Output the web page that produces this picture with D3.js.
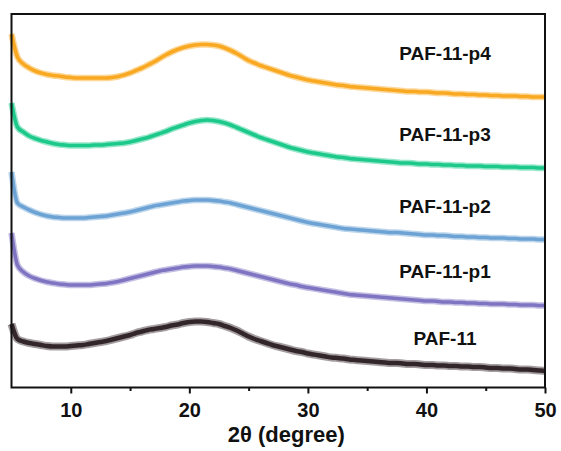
<!DOCTYPE html>
<html>
<head>
<meta charset="utf-8">
<script src="https://cdn.jsdelivr.net/npm/d3@7"></script>
<style>
  html, body { margin: 0; padding: 0; background: #fff; }
  svg { display: block; font-family: Arial, "Liberation Sans", sans-serif; }
</style>
</head>
<body>
<svg id="chart" width="561" height="451"></svg>
<script>
// --- Data (2θ grid every 0.5°, stacked intensities in a.u.) ---
const twoTheta = d3.range(5, 50.001, 0.5);

const seriesNames = ["PAF-11-p4", "PAF-11-p3", "PAF-11-p2", "PAF-11-p1", "PAF-11"];
const seriesColors = ["#f9a822", "#1cc98a", "#6ca3d4", "#7f74c2", "#33262b"];

const p4 = [353, 330, 323, 319, 316, 314, 312.5, 311.5, 311, 310,
  309.5, 309, 309, 309, 309, 309, 309, 309.5, 310.5, 312,
  314, 316.5, 319, 322, 325, 328.5, 332, 335, 337.5, 339.5,
  341, 342, 342.5, 342.5, 342, 341, 339, 336.5, 333.5, 330,
  326.5, 324, 321.5, 319.5, 317.5, 315.5, 313.5, 311.5, 310, 308.5,
  307, 306, 305, 304, 303, 302, 301.5, 300.5, 300, 299.5,
  299, 298.5, 298, 297.5, 297, 296.5, 296, 295.5, 295.5, 295,
  295, 294.5, 294, 294, 293.5, 293, 293, 292.5, 292.5, 292,
  292, 291.5, 291.5, 291, 291, 291, 290.5, 290.5, 290, 290, 290];

const p3 = [284, 260, 255, 251, 248.5, 246.5, 245, 243.5, 242.5, 242,
  241.5, 241.5, 241.5, 241.5, 242, 242, 242.5, 243, 243.5, 244,
  245, 246.5, 248, 249.5, 251.5, 253.5, 255.5, 258, 260, 262,
  264, 265.5, 266.5, 267, 266.5, 265.5, 264, 262, 259.5, 257,
  254.5, 252, 249.5, 247.5, 245.5, 243.5, 241.5, 239.5, 238, 236.5,
  235, 234, 233, 232, 231, 230, 229.5, 228.5, 228, 227.5,
  227, 226.5, 226, 225.5, 225, 224.5, 224, 224, 223.5, 223,
  223, 222.5, 222.5, 222, 222, 221.5, 221.5, 221, 221, 221,
  220.5, 220.5, 220.5, 220, 220, 220, 219.5, 219.5, 219.5, 219, 219];

const p2 = [215, 184, 180, 177, 174.5, 172.5, 171, 170, 169.5, 169,
  169, 169, 169, 169.5, 170, 170.5, 171, 172, 173, 174,
  175, 176.5, 178, 179.5, 181, 182, 183, 184, 185, 186,
  186.5, 187, 187, 187, 186.5, 186, 185, 184, 182.5, 181,
  179.5, 178, 176.5, 175, 173.5, 172, 170.5, 169, 167.5, 166,
  164.5, 163.5, 162.5, 161.5, 160.5, 159.5, 158.5, 158, 157.5, 157,
  156.5, 156, 155.5, 155, 154.5, 154.5, 154, 153.5, 153, 152.5,
  152, 152, 151.5, 151.5, 151, 150.5, 150.5, 150, 150, 149.5,
  149.5, 149, 149, 149, 148.5, 148.5, 148, 148, 148, 147.5, 147.5];

const p1 = [154, 122, 115, 111, 108.5, 106.5, 105, 104, 103, 102.5,
  102, 102, 102, 102, 102.5, 103, 103.5, 104.5, 105.5, 107,
  108.5, 110, 111.5, 113, 114.5, 116, 117, 118, 119, 120,
  120.5, 121, 121, 121, 120.5, 120, 119, 118, 116.5, 115,
  113.5, 112, 110.5, 109, 107.5, 106, 104.5, 103, 102, 100.5,
  99.5, 98.5, 97.5, 96.5, 95.5, 94.5, 93.5, 92.5, 92, 91.5,
  91, 90.5, 90, 89.5, 89, 88.5, 88, 87.5, 87, 86.5,
  86, 86, 85.5, 85, 85, 84.5, 84.5, 84, 84, 83.5,
  83.5, 83, 83, 83, 82.5, 82.5, 82, 82, 82, 81.5, 81.5];

const p0 = [63, 48, 45.5, 44, 43, 42, 41, 40.5, 40.5, 40.5,
  41, 41.5, 42, 43, 44, 45, 46, 47.5, 49, 50.5,
  52, 54, 55.5, 57, 58, 59, 60, 61.5, 62.5, 64,
  65, 65.5, 65.5, 65, 64, 63, 61, 59, 56.5, 53.5,
  50.5, 48, 46, 44, 42, 40.5, 39, 37.5, 36, 35,
  33.5, 32.5, 31.5, 30.5, 29.5, 29, 28.5, 27.5, 27, 26.5,
  26, 25.5, 25, 24.5, 24, 24, 23.5, 23, 23, 22.5,
  22, 22, 21.5, 21.5, 21, 21, 20.5, 20.5, 20, 20,
  19.5, 19, 19, 18.5, 18.5, 18, 17.5, 17.5, 17, 16.5, 16];

const seriesValues = [p4, p3, p2, p1, p0];

const majorTicks = [10, 20, 30, 40, 50];
const minorTicks = [15, 25, 35, 45];

// --- Layout ---
const margin = { left: 11.5, right: 545, top: 14, bottom: 387 };
const labelX = 445;
const labelLevels = [327, 246, 174, 109, 42]; // a.u., where each name sits

const svg = d3.select("#chart");

const x = d3.scaleLinear().domain([5, 50]).range([margin.left, margin.right]);
const y = d3.scaleLinear().domain([0, 373]).range([margin.bottom, margin.top]);

const line = d3.line()
  .x((d, i) => x(twoTheta[i]))
  .y(d => y(d))
  .curve(d3.curveMonotoneX);

// curves: a soft wide stroke for the noise band, a solid core on top
const curves = svg.append("g").attr("class", "curves");
seriesValues.forEach((vals, k) => {
  const heavy = k === 4;
  curves.append("path")
    .datum(vals)
    .attr("fill", "none")
    .attr("stroke", seriesColors[k])
    .attr("stroke-opacity", 0.45)
    .attr("stroke-width", heavy ? 8 : 6.5)
    .attr("stroke-linejoin", "round")
    .attr("d", line);
  curves.append("path")
    .datum(vals)
    .attr("fill", "none")
    .attr("stroke", seriesColors[k])
    .attr("stroke-width", heavy ? 4.5 : 3.6)
    .attr("stroke-linejoin", "round")
    .attr("d", line);
});

// series names
svg.append("g").selectAll("text")
  .data(seriesNames)
  .join("text")
  .attr("x", labelX)
  .attr("y", (d, i) => y(labelLevels[i]))
  .attr("text-anchor", "middle")
  .attr("font-size", 19)
  .attr("font-weight", "bold")
  .attr("fill", "#111")
  .text(d => d);

// frame
svg.append("rect")
  .attr("x", margin.left)
  .attr("y", margin.top)
  .attr("width", margin.right - margin.left)
  .attr("height", margin.bottom + 0.5 - margin.top)
  .attr("fill", "none")
  .attr("stroke", "#111")
  .attr("stroke-width", 2);

// x axis (major + minor ticks)
const xAxis = svg.append("g")
  .attr("transform", `translate(0,${margin.bottom + 0.5})`)
  .call(d3.axisBottom(x).tickValues(majorTicks).tickSize(6).tickPadding(9).tickFormat(d3.format("d")));
xAxis.select(".domain").remove();
xAxis.selectAll("line").attr("stroke", "#111").attr("stroke-width", 2);
xAxis.selectAll("text")
  .attr("font-size", 20)
  .attr("font-weight", "bold")
  .attr("fill", "#111")
  .attr("font-family", "Arial, 'Liberation Sans', sans-serif");

const xMinor = svg.append("g")
  .attr("transform", `translate(0,${margin.bottom + 0.5})`)
  .call(d3.axisBottom(x).tickValues(minorTicks).tickSize(3.5).tickFormat(""));
xMinor.select(".domain").remove();
xMinor.selectAll("line").attr("stroke", "#111").attr("stroke-width", 2);

// axis title
svg.append("text")
  .attr("x", (margin.left + margin.right) / 2 + 8)
  .attr("y", 442)
  .attr("text-anchor", "middle")
  .attr("font-size", 22)
  .attr("font-weight", "bold")
  .attr("fill", "#111")
  .text("2θ (degree)");
</script>
</body>
</html>
